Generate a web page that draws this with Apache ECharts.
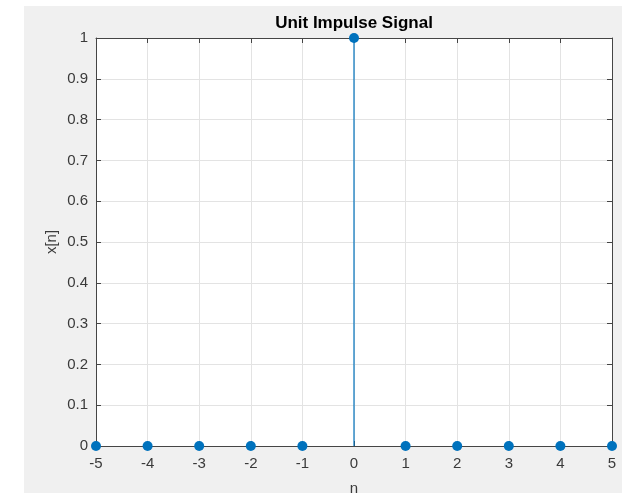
<!DOCTYPE html>
<html>
<head>
<meta charset="UTF-8">
<script src="https://cdn.jsdelivr.net/npm/echarts@6/dist/echarts.min.js"></script>
<title>Unit Impulse Signal</title>
<style>
	html, body { margin: 0; padding: 0; background: #fff; }
	#chart { width: 622px; height: 493px; }
</style>
</head>
<body>
	<div id="chart"></div>
	<script>
		// sample index and impulse values
		var nValues = [-5, -4, -3, -2, -1, 0, 1, 2, 3, 4, 5];
		var xValues = [0, 0, 0, 0, 0, 1, 0, 0, 0, 0, 0];
		var titleText = 'Unit Impulse Signal';
		var xName = 'n';
		var yName = 'x[n]';

		var stemColor = '#0072bd';
		var boxColor = '#454545';
		var labelColor = '#3a3a3a';
		var font = 'Arial, "Liberation Sans", Helvetica, sans-serif';

		var points = [];
		for (var i = 0; i < nValues.length; i++) {
			points.push([nValues[i], xValues[i]]);
		}

		var chart = echarts.init(document.getElementById('chart'));

		var axisCommon = {
			axisLine: { show: true, onZero: false, lineStyle: { color: boxColor, width: 1 } },
			axisTick: { show: true, inside: true, length: 5, lineStyle: { color: boxColor } },
			splitLine: { show: false }
		};

		var option = {
			animation: false,
			backgroundColor: '#fff',
			textStyle: { fontFamily: font },
			graphic: [{
				type: 'rect',
				z: -10,
				silent: true,
				shape: { x: 24, y: 6, width: 598, height: 487 },
				style: { fill: '#f0f0f0' }
			}, {
				type: 'text',
				z: 10,
				x: 354,
				y: 23,
				style: {
					text: titleText,
					font: 'bold 17px ' + font,
					fill: '#000',
					textAlign: 'center',
					textVerticalAlign: 'middle'
				}
			}],
			grid: {
				left: 96,
				right: 10,
				top: 38,
				bottom: 47,
				outerBoundsMode: 'none',
				containLabel: false,
				show: true,
				backgroundColor: '#fff',
				borderWidth: 0
			},
			xAxis: [Object.assign({}, axisCommon, {
				type: 'value',
				min: -5,
				max: 5,
				interval: 1,
				position: 'bottom',
				name: xName,
				nameLocation: 'middle',
				nameGap: 35,
				nameTextStyle: { fontSize: 15, color: labelColor, fontFamily: font },
				axisLabel: { fontSize: 15, color: labelColor, margin: 10, fontFamily: font },
				splitLine: { show: true, lineStyle: { color: '#e3e3e3', width: 1 } }
			}), Object.assign({}, axisCommon, {
				type: 'value',
				min: -5,
				max: 5,
				interval: 1,
				position: 'top',
				axisLabel: { show: false }
			})],
			yAxis: [Object.assign({}, axisCommon, {
				type: 'value',
				min: 0,
				max: 1,
				interval: 0.1,
				position: 'left',
				name: yName,
				nameLocation: 'middle',
				nameGap: 37,
				nameMoveOverlap: false,
				nameTextStyle: { fontSize: 15, color: labelColor, fontFamily: font },
				axisLabel: { fontSize: 15, color: labelColor, margin: 8, fontFamily: font },
				splitLine: { show: true, lineStyle: { color: '#e3e3e3', width: 1 } }
			}), Object.assign({}, axisCommon, {
				type: 'value',
				min: 0,
				max: 1,
				interval: 0.1,
				position: 'right',
				axisLabel: { show: false }
			})],
			series: [{
				type: 'custom',
				clip: false,
				data: points,
				renderItem: function (params, api) {
					var base = api.coord([api.value(0), 0]);
					var top = api.coord([api.value(0), api.value(1)]);
					return {
						type: 'line',
						shape: { x1: base[0], y1: base[1], x2: top[0], y2: top[1] },
						style: { stroke: stemColor, lineWidth: 1.2 }
					};
				},
				z: 3
			}, {
				type: 'scatter',
				clip: false,
				data: points,
				symbol: 'circle',
				symbolSize: 10,
				itemStyle: { color: stemColor, opacity: 1 },
				z: 4
			}]
		};

		chart.setOption(option);
	</script>
</body>
</html>
